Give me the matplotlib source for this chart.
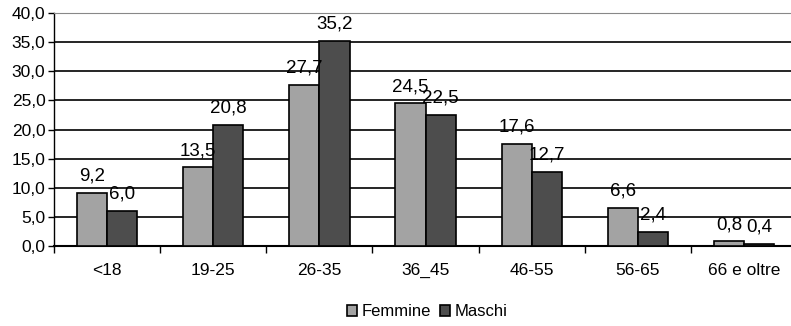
import matplotlib.pyplot as plt
import numpy as np

plt.rcParams['font.family'] = ['Liberation Sans', 'DejaVu Sans']

# fasce d'eta e percentuali
fasce = ["<18", "19-25", "26-35", "36_45", "46-55", "56-65", "66 e oltre"]
femmine = [9.2, 13.5, 27.7, 24.5, 17.6, 6.6, 0.8]
maschi = [6.0, 20.8, 35.2, 22.5, 12.7, 2.4, 0.4]

fig = plt.figure(figsize=(7.91, 3.26), dpi=100)
ax = fig.add_axes([0.068, 0.245, 0.94, 0.715])

x = np.arange(len(fasce))
w = 0.285

b1 = ax.bar(x - w/2, femmine, w, color="#a3a3a3", edgecolor="black", linewidth=1.2, label="Femmine", zorder=3)
b2 = ax.bar(x + w/2, maschi, w, color="#4d4d4d", edgecolor="black", linewidth=1.2, label="Maschi", zorder=3)

# etichette con la virgola decimale
for bars, vals in ((b1, femmine), (b2, maschi)):
    for b, v in zip(bars, vals):
        ax.annotate(f"{v:.1f}".replace(".", ","), (b.get_x() + b.get_width()/2, v),
                    xytext=(0, 6), textcoords="offset points", ha="center", va="bottom", fontsize=13.5)

ax.set_ylim(0, 40)
ax.set_xlim(-0.5, len(fasce) - 0.5)
ax.set_yticks(np.arange(0, 41, 5))
ax.set_yticklabels([f"{t:.1f}".replace(".", ",") for t in np.arange(0, 41, 5)], fontsize=12.5)
ax.yaxis.grid(True, color="black", linewidth=1.2, zorder=0)
ax.set_axisbelow(True)

ax.set_xticks(x)
ax.set_xticklabels(fasce, fontsize=12.5)
ax.set_xticks(np.arange(-0.5, len(fasce), 1), minor=True)
ax.tick_params(axis="x", which="major", length=0, pad=12)
ax.tick_params(axis="x", which="minor", length=5, width=1, direction="out")
ax.tick_params(axis="y", length=4, width=1, direction="out", pad=2)

ax.spines["top"].set_color("#888888")
ax.spines["right"].set_visible(False)
ax.spines["bottom"].set_linewidth(1.5)
ax.spines["left"].set_linewidth(1)

fig.legend(loc="lower center", bbox_to_anchor=(0.54, -0.025), ncol=2, frameon=False, fontsize=12,
           handlelength=0.6, handleheight=0.6, handletextpad=0.3, columnspacing=0.5)

fig.savefig("out.png", dpi=100)
